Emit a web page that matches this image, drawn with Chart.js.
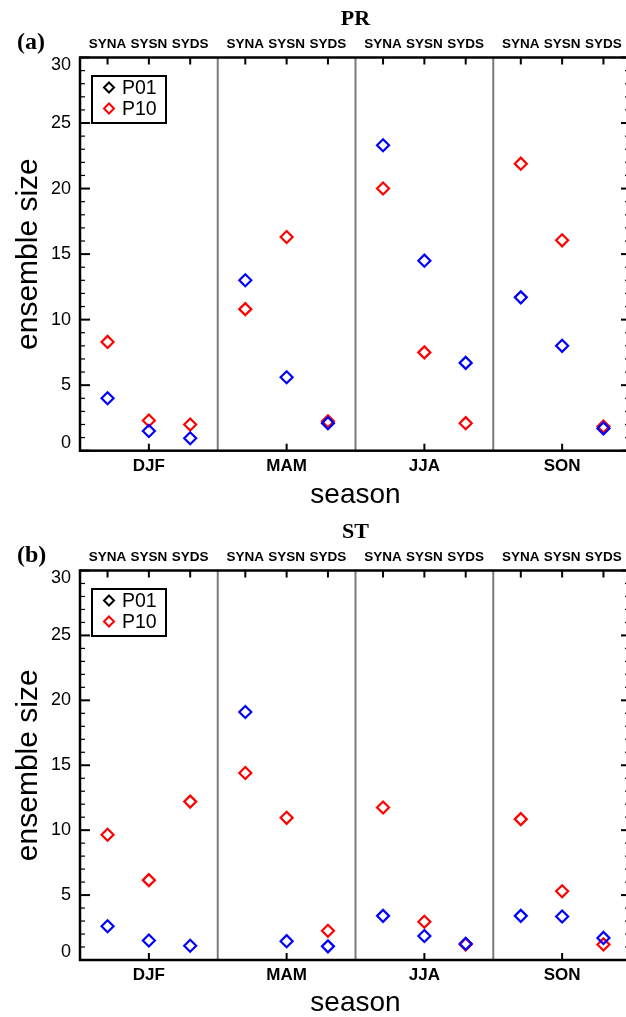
<!DOCTYPE html>
<html>
<head>
<meta charset="utf-8">
<script src="https://cdn.jsdelivr.net/npm/chart.js@4"></script>
<style>
  body { margin: 0; background: #fff; }
  .panel { width: 626px; overflow: hidden; }
</style>
</head>
<body>
<div class="panel" style="height:513px"><canvas id="prChart" width="631" height="513"></canvas></div>
<div class="panel" style="height:504px"><canvas id="stChart" width="631" height="504"></canvas></div>
<script>
'use strict';

const seasons = ['DJF', 'MAM', 'JJA', 'SON'];
const types = ['SYNA', 'SYSN', 'SYDS'];
const seriesNames = ['P01', 'P10'];
const yTicks = [0, 5, 10, 15, 20, 25, 30];

// ensemble size, order: DJF SYNA, DJF SYSN, DJF SYDS, MAM SYNA, ...
const prP01 = [4.0, 1.5, 0.95, 13.0, 5.6, 2.1, 23.3, 14.5, 6.7, 11.7, 8.0, 1.7];
const prP10 = [8.3, 2.3, 2.0, 10.8, 16.3, 2.25, 20.0, 7.5, 2.1, 21.9, 16.05, 1.85];
const stP01 = [2.6, 1.5, 1.1, 19.1, 1.45, 1.05, 3.4, 1.85, 1.25, 3.4, 3.35, 1.7];
const stP10 = [9.65, 6.15, 12.2, 14.4, 10.95, 2.25, 11.75, 2.95, 1.2, 10.85, 5.3, 1.2];

const seriesColors = ['#0000ff', '#ff0000'];
const legendColors = ['#000000', '#ff0000'];

Chart.defaults.font.family = '"Liberation Sans", Arial, Helvetica, sans-serif';
Chart.defaults.color = '#000';

// each season gets one unit on x, the three types sit at 0.2 / 0.5 / 0.8 inside it
function toPoints(values) {
  return values.map((v, k) => ({
    x: Math.floor(k / types.length) + 0.2 + 0.3 * (k % types.length),
    y: v
  }));
}

function diamond(ctx, x, y, r) {
  ctx.beginPath();
  ctx.moveTo(x, y - r);
  ctx.lineTo(x + r, y);
  ctx.lineTo(x, y + r);
  ctx.lineTo(x - r, y);
  ctx.closePath();
  ctx.stroke();
}

function line(ctx, x1, y1, x2, y2) {
  ctx.beginPath();
  ctx.moveTo(x1, y1);
  ctx.lineTo(x2, y2);
  ctx.stroke();
}

const framePlugin = {
  id: 'frame',
  beforeDatasetsDraw(chart) {
    const {ctx, chartArea: a, scales: {x, x2, y}} = chart;
    ctx.save();

    // season dividers
    ctx.strokeStyle = '#7a7a7a';
    ctx.lineWidth = 2;
    for (let i = 1; i < seasons.length; i++) {
      const px = x.getPixelForValue(i);
      line(ctx, px, a.top, px, a.bottom);
    }

    ctx.strokeStyle = '#000';
    // left / right ticks, minor every 1
    for (let v = y.min; v <= y.max; v++) {
      const py = y.getPixelForValue(v);
      const major = v % 5 === 0;
      ctx.lineWidth = major ? 2 : 1.2;
      line(ctx, a.left, py, a.left + (major ? 10 : 5), py);
      line(ctx, a.right, py, a.right - (major ? 10 : 6), py);
    }
    // top ticks (types)
    ctx.lineWidth = 2;
    x2.ticks.forEach(t => {
      const px = x2.getPixelForValue(t.value);
      line(ctx, px, a.top, px, a.top + 7);
    });
    // bottom ticks (seasons)
    x.ticks.forEach(t => {
      const px = x.getPixelForValue(t.value);
      line(ctx, px, a.bottom, px, a.bottom - 7);
    });

    ctx.lineWidth = 2.5;
    ctx.strokeRect(a.left, a.top, a.width, a.height);
    ctx.restore();
  },
  afterDraw(chart, args, opts) {
    const {ctx, chartArea: a, scales: {y}} = chart;
    ctx.save();

    // y tick labels, kept inside the frame at the ends
    ctx.fillStyle = '#000';
    ctx.font = '18px "Liberation Sans", Arial, sans-serif';
    ctx.textAlign = 'right';
    ctx.textBaseline = 'middle';
    y.ticks.forEach(t => {
      let py = y.getPixelForValue(t.value);
      py = Math.min(Math.max(py, a.top + 7.5), a.bottom - 7.5);
      ctx.fillText(String(t.value), a.left - 9, py);
    });

    // panel letter
    ctx.textAlign = 'left';
    ctx.font = 'bold 24px "Liberation Serif", "Times New Roman", serif';
    ctx.fillText(opts.letter, 17, 43);

    // legend box
    const bx = a.left + 12, by = a.top + 18.5;
    ctx.fillStyle = '#fff';
    ctx.fillRect(bx, by, 74, 47);
    ctx.lineWidth = 2;
    ctx.strokeStyle = '#000';
    ctx.strokeRect(bx, by, 74, 47);
    ctx.font = '19.5px "Liberation Sans", Arial, sans-serif';
    ctx.fillStyle = '#000';
    seriesNames.forEach((name, i) => {
      const cy = by + 11.5 + 21 * i;
      ctx.strokeStyle = legendColors[i];
      diamond(ctx, bx + 17, cy, 5);
      ctx.fillText(name, bx + 30, cy + 1);
    });
    ctx.restore();
  }
};

function makeChart(id, title, letter, p01, p10, bottomHeight, titlePad) {
  const noGrid = { display: false, drawTicks: false, tickLength: 0 };
  return new Chart(document.getElementById(id), {
    type: 'scatter',
    data: {
      datasets: [p01, p10].map((vals, i) => ({
        label: seriesNames[i],
        data: toPoints(vals),
        pointStyle: 'rectRot',
        pointRadius: 6,
        pointHoverRadius: 6,
        pointBorderWidth: 2.2,
        pointBorderColor: seriesColors[i],
        pointBackgroundColor: 'rgba(0,0,0,0)',
        xAxisID: 'x',
        yAxisID: 'y'
      }))
    },
    options: {
      responsive: false,
      animation: false,
      devicePixelRatio: 1,
      layout: { padding: 0, autoPadding: false },
      plugins: {
        legend: { display: false },
        tooltip: { enabled: false },
        frame: { letter: letter }
      },
      scales: {
        x: {
          type: 'linear',
          position: 'bottom',
          min: 0,
          max: seasons.length,
          afterBuildTicks: s => { s.ticks = seasons.map((_, i) => ({ value: i + 0.5 })); },
          afterFit: s => { s.height = bottomHeight; },
          grid: noGrid,
          border: { display: false },
          ticks: {
            autoSkip: false,
            maxRotation: 0,
            padding: 5.6,
            font: { size: 17, weight: 'bold' },
            callback: (v, i) => seasons[i]
          },
          title: {
            display: true,
            text: 'season',
            font: { size: 28, lineHeight: 1 },
            padding: { top: 0, bottom: titlePad }
          }
        },
        x2: {
          type: 'linear',
          position: 'top',
          min: 0,
          max: seasons.length,
          afterBuildTicks: s => {
            const t = [];
            seasons.forEach((_, i) => types.forEach((_, j) => t.push({ value: i + 0.2 + 0.3 * j })));
            s.ticks = t;
          },
          afterFit: s => { s.height = 57.5; },
          grid: noGrid,
          border: { display: false },
          ticks: {
            autoSkip: false,
            maxRotation: 0,
            padding: 5.4,
            font: { size: 13.5, weight: 'bold' },
            callback: (v, i) => types[i % types.length]
          },
          title: {
            display: true,
            text: title,
            font: { family: '"Liberation Serif", "Times New Roman", serif', size: 22, weight: 'bold', lineHeight: 1 },
            padding: { top: 8, bottom: 0 }
          }
        },
        y: {
          type: 'linear',
          position: 'left',
          min: 0,
          max: 30,
          afterBuildTicks: s => { s.ticks = yTicks.map(v => ({ value: v })); },
          afterFit: s => { s.width = 80; },
          grid: noGrid,
          border: { display: false },
          ticks: { display: false },
          title: {
            display: true,
            text: 'ensemble size',
            font: { size: 30, lineHeight: 1 },
            padding: { top: 13.6, bottom: 0 }
          }
        }
      }
    },
    plugins: [framePlugin]
  });
}

makeChart('prChart', 'PR', '(a)', prP01, prP10, 62.3, 4);
makeChart('stChart', 'ST', '(b)', stP01, stP10, 57, 0);
</script>
</body>
</html>
